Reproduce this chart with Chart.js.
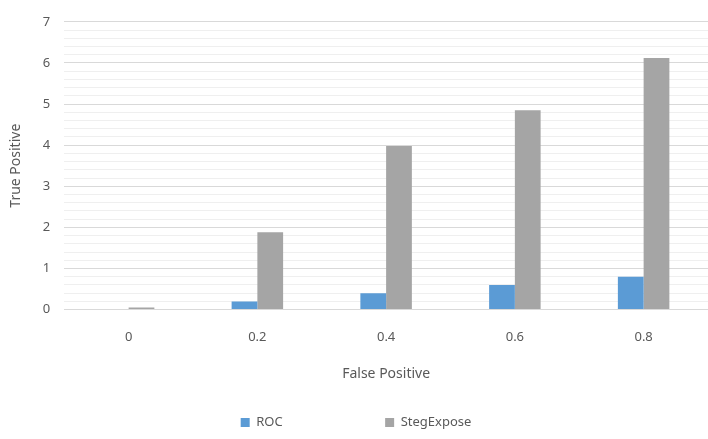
<!DOCTYPE html>
<html>
<head>
<meta charset="utf-8">
<script src="https://cdn.jsdelivr.net/npm/chart.js@4"></script>
<style>
  html, body { margin: 0; padding: 0; background: #fff; }
  #wrap { width: 708px; height: 439px; }
</style>
</head>
<body>
<div id="wrap"><canvas id="c"></canvas></div>
<script>
const categories = ['0', '0.2', '0.4', '0.6', '0.8'];
const rocValues = [0, 0.2, 0.4, 0.6, 0.8];
const stegValues = [0.05, 1.88, 3.98, 4.85, 6.12];

const font = { family: 'Noto Sans', size: 13 };

new Chart(document.getElementById('c'), {
  type: 'bar',
  data: {
    labels: categories,
    datasets: [
      { label: 'ROC', data: rocValues, backgroundColor: '#5b9bd5', categoryPercentage: 0.4, barPercentage: 1 },
      { label: 'StegExpose', data: stegValues, backgroundColor: '#a5a5a5', categoryPercentage: 0.4, barPercentage: 1 }
    ]
  },
  options: {
    responsive: true,
    maintainAspectRatio: false,
    animation: false,
    layout: { padding: { top: 8, right: 0, left: 4, bottom: 0 } },
    plugins: {
      legend: {
        position: 'bottom',
        labels: {
          color: '#595959', font: font, boxWidth: 9, boxHeight: 9, padding: 18,
          generateLabels: chart => Chart.defaults.plugins.legend.labels.generateLabels(chart)
            .map((l, i) => ({ ...l, text: i === 0 ? l.text + '                         ' : l.text }))
        }
      },
      tooltip: { enabled: false }
    },
    scales: {
      x: {
        grid: { display: false },
        border: { color: '#d9d9d9' },
        ticks: { color: '#595959', font: font, padding: 12 },
        title: { display: true, text: 'False Positive', color: '#595959', font: { family: 'Noto Sans', size: 14 }, padding: { top: 8, bottom: 16 } }
      },
      y: {
        min: 0, max: 7,
        border: { display: false },
        ticks: {
          stepSize: 0.2, autoSkip: false, color: '#595959', font: font, padding: 14,
          callback: v => Math.abs(v - Math.round(v)) < 1e-6 ? Math.round(v) : ''
        },
        grid: {
          drawTicks: false,
          color: ctx => Math.abs(ctx.tick.value - Math.round(ctx.tick.value)) < 1e-6 ? '#d9d9d9' : '#efefef'
        },
        title: { display: true, text: 'True Positive', color: '#595959', font: { family: 'Noto Sans', size: 14 } }
      }
    }
  }
});
</script>
</body>
</html>
